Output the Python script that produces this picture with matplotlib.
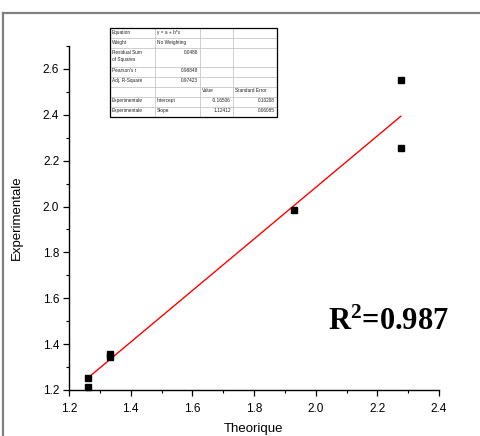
import matplotlib
matplotlib.use("Agg")
import matplotlib.pyplot as plt
from matplotlib.lines import Line2D
from matplotlib.patches import Rectangle
from matplotlib.ticker import MultipleLocator
import numpy as np

# Measured points
theorique = [1.263, 1.263, 1.333, 1.333, 1.930, 2.276, 2.276]
experimentale = [1.251, 1.215, 1.359, 1.343, 1.985, 2.552, 2.254]

# Linear fit results
intercept = -0.16506
slope = 1.12412
r_squared_label = "0.987"

x_ticks = [1.2, 1.4, 1.6, 1.8, 2.0, 2.2, 2.4]
y_ticks = [1.2, 1.4, 1.6, 1.8, 2.0, 2.2, 2.4, 2.6]

# Fit summary table rows
table_rows = [
    ["Equation", "y = a + b*x", "", ""],
    ["Weight", "No Weighting", "", ""],
    ["Residual Sum\nof Squares", "0.0486", "", ""],
    ["Pearson's r", "0.98848", "", ""],
    ["Adj. R-Square", "0.97423", "", ""],
    ["", "", "Value", "Standard Error"],
    ["Experimentale", "Intercept", "-0.16506", "0.10208"],
    ["Experimentale", "Slope", "1.12412", "0.06085"],
]

plt.rcParams["font.family"] = ["Liberation Sans", "DejaVu Sans"]
plt.rcParams["mathtext.fontset"] = "custom"
plt.rcParams["mathtext.bf"] = "Liberation Serif:bold"
plt.rcParams["mathtext.rm"] = "Liberation Serif:bold"
plt.rcParams["mathtext.it"] = "Liberation Serif:bold"

W, H = 480, 436
fig = plt.figure(figsize=(W / 100, H / 100), dpi=100)

ax = fig.add_axes([69 / W, 1 - 390 / H, (439 - 69) / W, (390 - 46) / H])
ax.set_xlim(1.2, 2.4)
ax.set_ylim(1.2, 2.7)
ax.set_xticks(x_ticks)
ax.set_yticks(y_ticks)
ax.xaxis.set_minor_locator(MultipleLocator(0.1))
ax.yaxis.set_minor_locator(MultipleLocator(0.1))
ax.set_xticklabels([f"{v:.1f}" for v in x_ticks])
ax.set_yticklabels([f"{v:.1f}" for v in y_ticks])
for s in ["top", "right"]:
    ax.spines[s].set_visible(False)
for s in ["left", "bottom"]:
    ax.spines[s].set_linewidth(1.0)
ax.tick_params(which="major", length=4, width=0.9, labelsize=8.5, direction="out", pad=3)
ax.tick_params(which="minor", length=2.2, width=0.8, direction="out")
ax.tick_params(axis="x", pad=5)

# Fit line over the data range
xf = np.array([min(theorique), max(theorique)])
ax.plot(xf, intercept + slope * xf, color="red", lw=1.0, zorder=2)

ax.plot(theorique, experimentale, ls="none", marker="s", ms=5, color="black",
        zorder=3, clip_on=False)

ax.set_xlabel("Theorique", fontsize=9.5, labelpad=6)
ax.set_ylabel("Experimentale", fontsize=9.5, labelpad=14)

fig.text(328 / W, 1 - 330 / H, r"R$^{\mathbf{2}}$=" + r_squared_label,
         fontsize=22, fontweight="bold", family="Liberation Serif",
         ha="left", va="baseline")

# Summary table drawn in figure pixel coordinates
col_edges = [110, 155, 200, 232.7, 277.3]
row_edges = [28.3, 38.3, 48.3, 66.7, 76.7, 86.7, 96.7, 106.7, 116.7]

def fx(px):
    return px / W

def fy(py):
    return 1 - py / H

fig.patches.append(Rectangle((fx(col_edges[0]), fy(row_edges[-1])),
                             fx(col_edges[-1]) - fx(col_edges[0]),
                             fy(row_edges[0]) - fy(row_edges[-1]),
                             transform=fig.transFigure, facecolor="white",
                             edgecolor="none", zorder=5))
for yv in row_edges[1:-1]:
    fig.lines.append(Line2D([fx(col_edges[0]), fx(col_edges[-1])], [fy(yv), fy(yv)],
                            transform=fig.transFigure, color="#c8c8c8", lw=0.6, zorder=6))
for xv in col_edges[1:-1]:
    fig.lines.append(Line2D([fx(xv), fx(xv)], [fy(row_edges[0]), fy(row_edges[-1])],
                            transform=fig.transFigure, color="#c8c8c8", lw=0.6, zorder=6))
fig.patches.append(Rectangle((fx(col_edges[0]), fy(row_edges[-1])),
                             fx(col_edges[-1]) - fx(col_edges[0]),
                             fy(row_edges[0]) - fy(row_edges[-1]),
                             transform=fig.transFigure, facecolor="none",
                             edgecolor="black", lw=0.9, zorder=7))

def is_number(s):
    try:
        float(s)
        return True
    except ValueError:
        return False

for r, row in enumerate(table_rows):
    top = row_edges[r]
    for c, txt in enumerate(row):
        if not txt:
            continue
        if is_number(txt):
            xp = col_edges[c + 1] - 2
            ha = "right"
        else:
            xp = col_edges[c] + 2
            ha = "left"
        fig.text(fx(xp), fy(top + 1.5), txt, fontsize=3.4, ha=ha, va="top",
                 color="#222222", linespacing=1.6, zorder=8)

# Outer grey frame
fig.lines.append(Line2D([fx(2.7), fx(2.7)], [fy(12.7), fy(440)],
                        transform=fig.transFigure, color="#808080", lw=1.6))
fig.lines.append(Line2D([fx(2.7), fx(490)], [fy(12.7), fy(12.7)],
                        transform=fig.transFigure, color="#808080", lw=1.6))

fig.savefig("out.png", dpi=100)
